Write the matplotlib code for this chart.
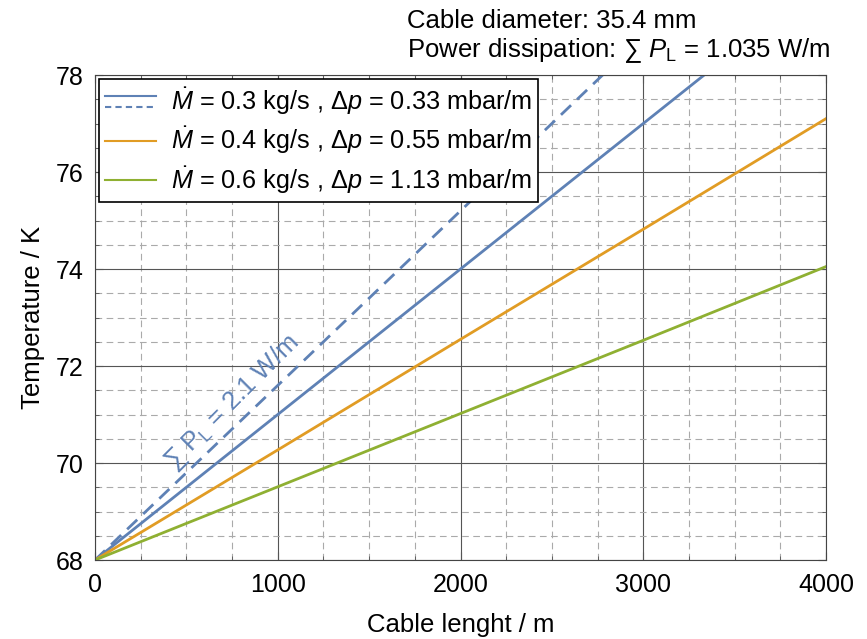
#!/usr/bin/env python
# -*- coding:utf-8 -*-

"""
Temperature along the cable for several mass flows
"""

import numpy as np
import matplotlib
matplotlib.use('Agg')
import matplotlib.pyplot as plt
from matplotlib.lines import Line2D
from matplotlib.legend_handler import HandlerBase
from matplotlib.ticker import MultipleLocator

plt.rcParams['font.family'] = ['Liberation Sans', 'DejaVu Sans']
plt.rcParams['mathtext.fontset'] = 'custom'
plt.rcParams['mathtext.rm'] = 'Liberation Sans'
plt.rcParams['mathtext.it'] = 'Liberation Sans:italic'

# data
length = [0, 1000, 2000, 3000, 4000]
temp_03 = [68.0, 71.0, 74.0, 77.0, 80.0]
temp_03_dashed = [68.0, 71.6, 75.2, 78.8, 82.4]
temp_04 = [68.0, 70.27, 72.55, 74.82, 77.1]
temp_06 = [68.0, 69.51, 71.02, 72.53, 74.05]

labels = [r'$\dot{M}$ = 0.3 kg/s , $\Delta p$ = 0.33 mbar/m',
          r'$\dot{M}$ = 0.4 kg/s , $\Delta p$ = 0.55 mbar/m',
          r'$\dot{M}$ = 0.6 kg/s , $\Delta p$ = 1.13 mbar/m']

c_blue = '#5E81B5'
c_orange = '#E19C24'
c_green = '#8FB032'

fs = 18.5


class HandlerSolidDashed(HandlerBase):
    # solid line on top, dashed line below
    def create_artists(self, legend, orig_handle, xdescent, ydescent,
                       width, height, fontsize, trans):
        yc = height / 2.0 - ydescent
        off = 0.22 * fontsize
        x = [-xdescent, -xdescent + width]
        l1 = Line2D(x, [yc + off] * 2, color=c_blue, lw=1.5, transform=trans)
        l2 = Line2D(x, [yc - off] * 2, color=c_blue, lw=1.5, ls=(0, (3, 2)),
                    transform=trans)
        return [l1, l2]


fig = plt.figure(figsize=(8.67, 6.39), dpi=100)
ax = fig.add_axes([0.1096, 0.1236, 0.9527 - 0.1096, 0.8826 - 0.1236])

ax.plot(length, temp_03_dashed, color=c_blue, lw=2, ls=(0, (5, 3)))
ax.plot(length, temp_03, color=c_blue, lw=2)
ax.plot(length, temp_04, color=c_orange, lw=2)
ax.plot(length, temp_06, color=c_green, lw=2)

ax.set_xlim(0, 4000)
ax.set_ylim(68, 78)
ax.xaxis.set_major_locator(MultipleLocator(1000))
ax.xaxis.set_minor_locator(MultipleLocator(250))
ax.yaxis.set_major_locator(MultipleLocator(2))
ax.yaxis.set_minor_locator(MultipleLocator(0.5))
ax.grid(True, which='major', color='#555555', lw=0.8)
ax.grid(True, which='minor', color='#AAAAAA', lw=0.8, ls=(0, (6, 4)))
ax.set_axisbelow(True)
ax.tick_params(which='both', direction='in', top=True, right=True,
               labelsize=18, color='#555555')
ax.tick_params(axis='x', which='major', pad=9)
ax.tick_params(axis='y', which='major', pad=8)
ax.tick_params(which='major', length=6)
ax.tick_params(which='minor', length=3)
for s in ax.spines.values():
    s.set_color('#444444')

ax.set_xlabel('Cable lenght / m', fontsize=fs, labelpad=12)
ax.set_ylabel('Temperature / K', fontsize=fs, labelpad=8)

ax.text(430, 69.85, '∑ P$_\\mathrm{L}$ = 2.1 W/m',
        color=c_blue, fontsize=fs, rotation=45, rotation_mode='anchor',
        ha='left', va='baseline')

fig.text(0.469, 0.956, 'Cable diameter: 35.4 mm', fontsize=fs,
         ha='left', va='baseline')
fig.text(0.469, 0.911, 'Power dissipation: ∑ $P_\\mathrm{L}$ = 1.035 W/m',
         fontsize=fs, ha='left', va='baseline')

handles = [(Line2D([], [], color=c_blue), Line2D([], [], color=c_blue)),
           Line2D([], [], color=c_orange, lw=1.5),
           Line2D([], [], color=c_green, lw=1.5)]
leg = ax.legend(handles, labels, loc='upper left', fontsize=18.2,
                handler_map={tuple: HandlerSolidDashed()},
                handlelength=2.0, handletextpad=0.6, borderaxespad=0.15,
                framealpha=1, fancybox=False, edgecolor='black',
                labelspacing=0.3, borderpad=0.25)
leg.get_frame().set_linewidth(1.2)

plt.savefig('out.png', dpi=100)
